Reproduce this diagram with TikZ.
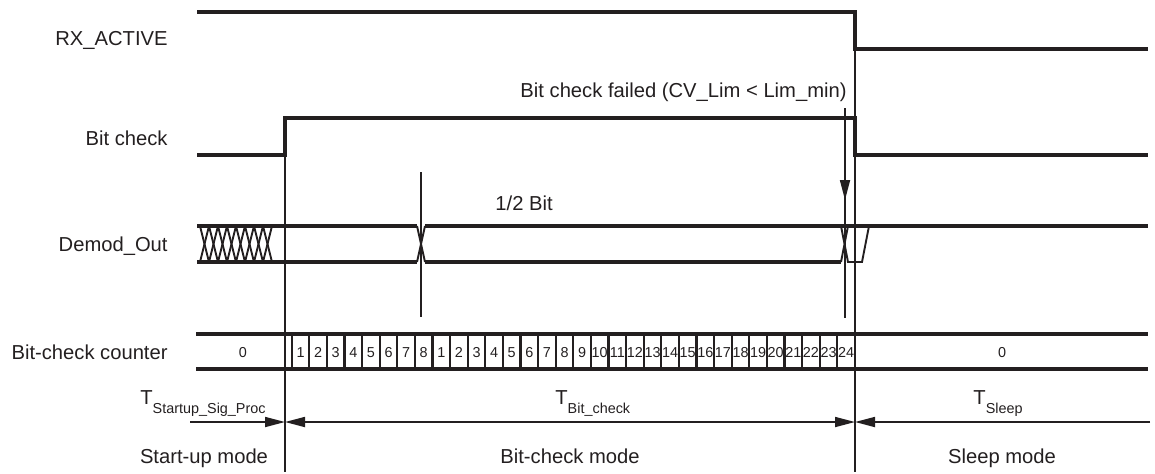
\documentclass[tikz,border=0pt]{standalone}
\usepackage{fontspec}
\setmainfont{Liberation Sans}
\usetikzlibrary{arrows.meta}
\definecolor{ink}{HTML}{231F20}
\begin{document}
\begin{tikzpicture}[x=0.5pt,y=-0.5pt, color=ink,
  sig/.style={line width=1.6pt, line join=miter},
  thinl/.style={line width=0.85pt},
  xline/.style={line width=0.95pt},
  cell/.style={line width=1.1pt},
  lbl/.style={anchor=base east, font=\fontsize{10.1}{12}\selectfont, inner sep=0pt},
  txt/.style={anchor=base, font=\fontsize{10.1}{12}\selectfont, inner sep=0pt},
  num/.style={anchor=base, font=\fontsize{7.2}{8}\selectfont, inner sep=0pt},
  tip/.style={-{Triangle[length=10pt,width=5pt]}},
  dtip/.style={{Triangle[length=10pt,width=5pt]}-{Triangle[length=10pt,width=5pt]}},
]
\useasboundingbox (0,0) rectangle (1155,473);

% signal labels
\node[lbl] (rx) at (168,45) {RX\_ACTIVE};
\node[lbl] (bc) at (168,145) {Bit check};
\node[lbl] (dm) at (168,251) {Demod\_Out};
\node[lbl] (cnt) at (168,359) {Bit-check counter};

% RX_ACTIVE
\draw[sig] (197,12) -- (855,12) -- (855,49) -- (1148,49);
% Bit check
\draw[sig] (197,155) -- (285,155) -- (285,118) -- (855,118) -- (855,155) -- (1148,155);

% thin marker lines
\draw[thinl] (285,155) -- (285,472);
\draw[thinl] (855,12) -- (855,472);
\draw[thinl] (421,172) -- (421,317);
\draw[thinl] (845,108) -- (845,318);
\draw[thinl,tip] (845,108) -- (845,200);

\node[txt, anchor=base east] (fail) at (847,97) {Bit check failed (CV\_Lim < Lim\_min)};
\node[txt, anchor=base west] (half) at (495,210) {1/2 Bit};

% Demod_Out
\draw[sig] (197,226) -- (417,226) (197,262) -- (417,262);
\foreach \i in {0,...,7} {
  \draw[xline] ({200+9*\i},226) -- ({209+9*\i},262);
  \draw[xline] ({200+9*\i},262) -- ({209+9*\i},226);
}
\draw[xline] (417,226) -- (425,262) (417,262) -- (425,226);
\draw[sig] (425,226) -- (1148,226);
\draw[sig] (425,262) -- (841,262);
\draw[xline] (841,262) -- (848,226) (841,226) -- (848,262) -- (862,262) -- (869,226);

% Bit-check counter
\draw[sig] (196,334) -- (1148,334) (196,369) -- (1148,369);
\foreach \i in {0,...,32}
  \draw[cell] ({291.7+17.6*\i},334) -- ++(0,35);
\foreach \n [count=\i] in {1,2,3,4,5,6,7,8,1,2,3,4,5,6,7,8,9,10,11,12,13,14,15,16,17,18,19,20,21,22,23,24}
  \node[num] (c\i) at ({291.7+17.6*(\i-0.5)},357) {\n};
\node[num] (z1) at (243,357) {0};
\node[num] (z2) at (1002,357) {0};

% time spans
\draw[thinl,tip] (190,422) -- (285,422);
\draw[thinl,dtip] (285,422) -- (855,422);
\draw[thinl,tip] (1150,422) -- (855,422);

\node[txt, anchor=base west] (ts) at (140,404) {T\raisebox{-4.5pt}{\fontsize{7.2}{8}\selectfont Startup\_Sig\_Proc}};
\node[txt, anchor=base west] (tb) at (555,404) {T\raisebox{-4.5pt}{\fontsize{7.2}{8}\selectfont Bit\_check}};
\node[txt, anchor=base west] (tl) at (973,404) {T\raisebox{-4.5pt}{\fontsize{7.2}{8}\selectfont Sleep}};

% modes
\node[txt] (m1) at (204,463) {Start-up mode};
\node[txt] (m2) at (570,463) {Bit-check mode};
\node[txt] (m3) at (1002,463) {Sleep mode};
\end{tikzpicture}
\end{document}
